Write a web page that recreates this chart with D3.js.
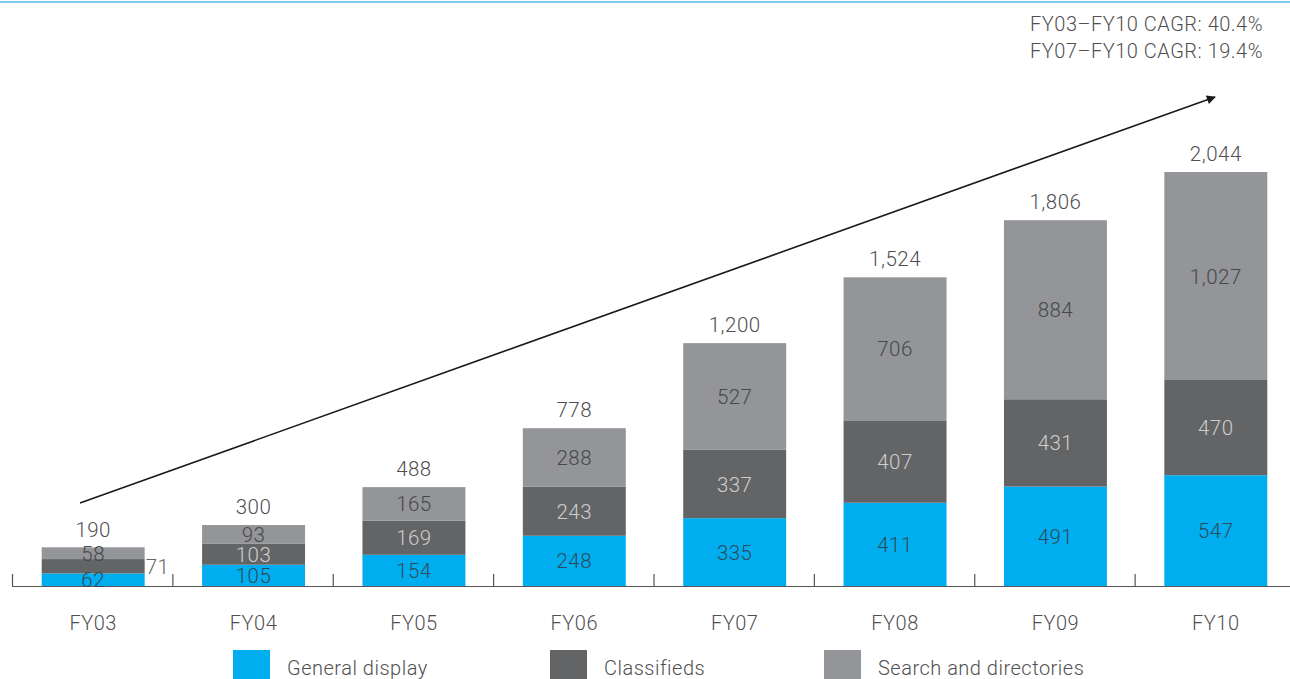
<!DOCTYPE html>
<html>
<head>
<meta charset="utf-8">
<script src="https://cdn.jsdelivr.net/npm/d3@7"></script>
<style>
  html, body { margin: 0; padding: 0; background: #fff; }
  svg { display: block; font-family: Roboto, "Liberation Sans", Arial, sans-serif; font-weight: 300; letter-spacing: 0.5px; }
</style>
</head>
<body>
<svg id="chart" width="1290" height="679"></svg>
<script>
// Advertising revenue by segment, FY03–FY10
const years = ["FY03", "FY04", "FY05", "FY06", "FY07", "FY08", "FY09", "FY10"];
const generalDisplay = [62, 105, 154, 248, 335, 411, 491, 547];
const classifieds = [71, 103, 169, 243, 337, 407, 431, 470];
const searchDirectories = [58, 93, 165, 288, 527, 706, 884, 1027];
const totals = [190, 300, 488, 778, 1200, 1524, 1806, 2044];
const seriesNames = ["General display", "Classifieds", "Search and directories"];
const seriesColors = ["#00aeef", "#636466", "#939598"];
const labelColors = ["#2f4b5a", "#cdcdcd", "#48484a"];
const cagrNotes = ["FY03–FY10 CAGR: 40.4%", "FY07–FY10 CAGR: 19.4%"];

const svg = d3.select("#chart");
const W = 1290, H = 679;
const baseY = 586;
const textGray = "#4f4f51";

const x = d3.scaleBand().domain(years).range([13, 1296]).paddingInner(0.358).paddingOuter(0.179);
const y = d3.scaleLinear().domain([0, 2044]).range([baseY, 172]);

// top rule
svg.append("rect").attr("x", 0).attr("y", 1).attr("width", W).attr("height", 2).attr("fill", "#7fcdea");

// stacked data
const rows = years.map((yr, i) => ({
  year: yr,
  "General display": generalDisplay[i],
  "Classifieds": classifieds[i],
  "Search and directories": searchDirectories[i]
}));
const stacked = d3.stack().keys(seriesNames)(rows);

// baseline with separator ticks between bands
const step = x.step();
const gap = step - x.bandwidth();
svg.append("line").attr("x1", x(years[0]) - gap / 2 - 1).attr("x2", W)
  .attr("y1", baseY + 0.5).attr("y2", baseY + 0.5).attr("stroke", "#555").attr("stroke-width", 1.2);
const tickXs = years.map(yr => x(yr) - gap / 2 - 1);
svg.selectAll("line.sep").data(tickXs).join("line").attr("class", "sep")
  .attr("x1", d => d + 0.5).attr("x2", d => d + 0.5)
  .attr("y1", baseY - 12).attr("y2", baseY)
  .attr("stroke", "#555").attr("stroke-width", 1.2);

// bars
const layers = svg.selectAll("g.layer").data(stacked).join("g").attr("class", "layer")
  .attr("fill", (d, i) => seriesColors[i]);
layers.selectAll("rect").data(d => d).join("rect")
  .attr("x", d => x(d.data.year))
  .attr("width", x.bandwidth())
  .attr("y", d => y(d[1]))
  .attr("height", d => y(d[0]) - y(d[1]));

// segment value labels
const fmt = d3.format(",");
stacked.forEach((layer, si) => {
  layer.forEach(d => {
    const v = d[1] - d[0];
    const mid = (y(d[0]) + y(d[1])) / 2;
    const small = (y(d[0]) - y(d[1])) < 18;
    let tx = x(d.data.year) + x.bandwidth() / 2, anchor = "middle", col = labelColors[si];
    if (small && si === 1) { tx = x(d.data.year) + x.bandwidth() + 1; anchor = "start"; col = "#666"; }
    svg.append("text")
      .attr("x", tx).attr("y", mid + 7.5)
      .attr("text-anchor", anchor)
      .attr("font-size", 20.5).attr("fill", col)
      .text(fmt(v));
  });
});

// totals
svg.selectAll("text.total").data(totals).join("text").attr("class", "total")
  .attr("x", (d, i) => x(years[i]) + x.bandwidth() / 2)
  .attr("y", d => y(d) - 11)
  .attr("text-anchor", "middle").attr("font-size", 20.5).attr("fill", textGray)
  .text(d => fmt(d));

// category labels
svg.selectAll("text.cat").data(years).join("text").attr("class", "cat")
  .attr("x", d => x(d) + x.bandwidth() / 2).attr("y", 630)
  .attr("text-anchor", "middle").attr("font-size", 20).attr("fill", textGray)
  .text(d => d);

// growth arrow
svg.append("defs").append("marker").attr("id", "arrow")
  .attr("viewBox", "0 0 10 10").attr("refX", 9).attr("refY", 5)
  .attr("markerWidth", 10).attr("markerHeight", 9).attr("orient", "auto")
  .attr("markerUnits", "userSpaceOnUse")
  .append("path").attr("d", "M0,0 L10,5 L0,10 Z").attr("fill", "#1a1a1a");
svg.append("line").attr("x1", 80).attr("y1", 503).attr("x2", 1215).attr("y2", 97)
  .attr("stroke", "#1a1a1a").attr("stroke-width", 1.6).attr("marker-end", "url(#arrow)");

// CAGR notes
svg.selectAll("text.cagr").data(cagrNotes).join("text").attr("class", "cagr")
  .attr("x", 1263).attr("y", (d, i) => 31 + i * 27)
  .attr("text-anchor", "end").attr("font-size", 20).attr("fill", textGray)
  .text(d => d);

// legend
const legendX = [233, 550, 824];
const lg = svg.selectAll("g.legend").data(seriesNames).join("g").attr("class", "legend")
  .attr("transform", (d, i) => `translate(${legendX[i]},650)`);
lg.append("rect").attr("width", 37).attr("height", 30).attr("fill", (d, i) => seriesColors[i]);
lg.append("text").attr("x", 54).attr("y", 25).attr("font-size", 20).attr("fill", textGray).text(d => d);
</script>
</body>
</html>
